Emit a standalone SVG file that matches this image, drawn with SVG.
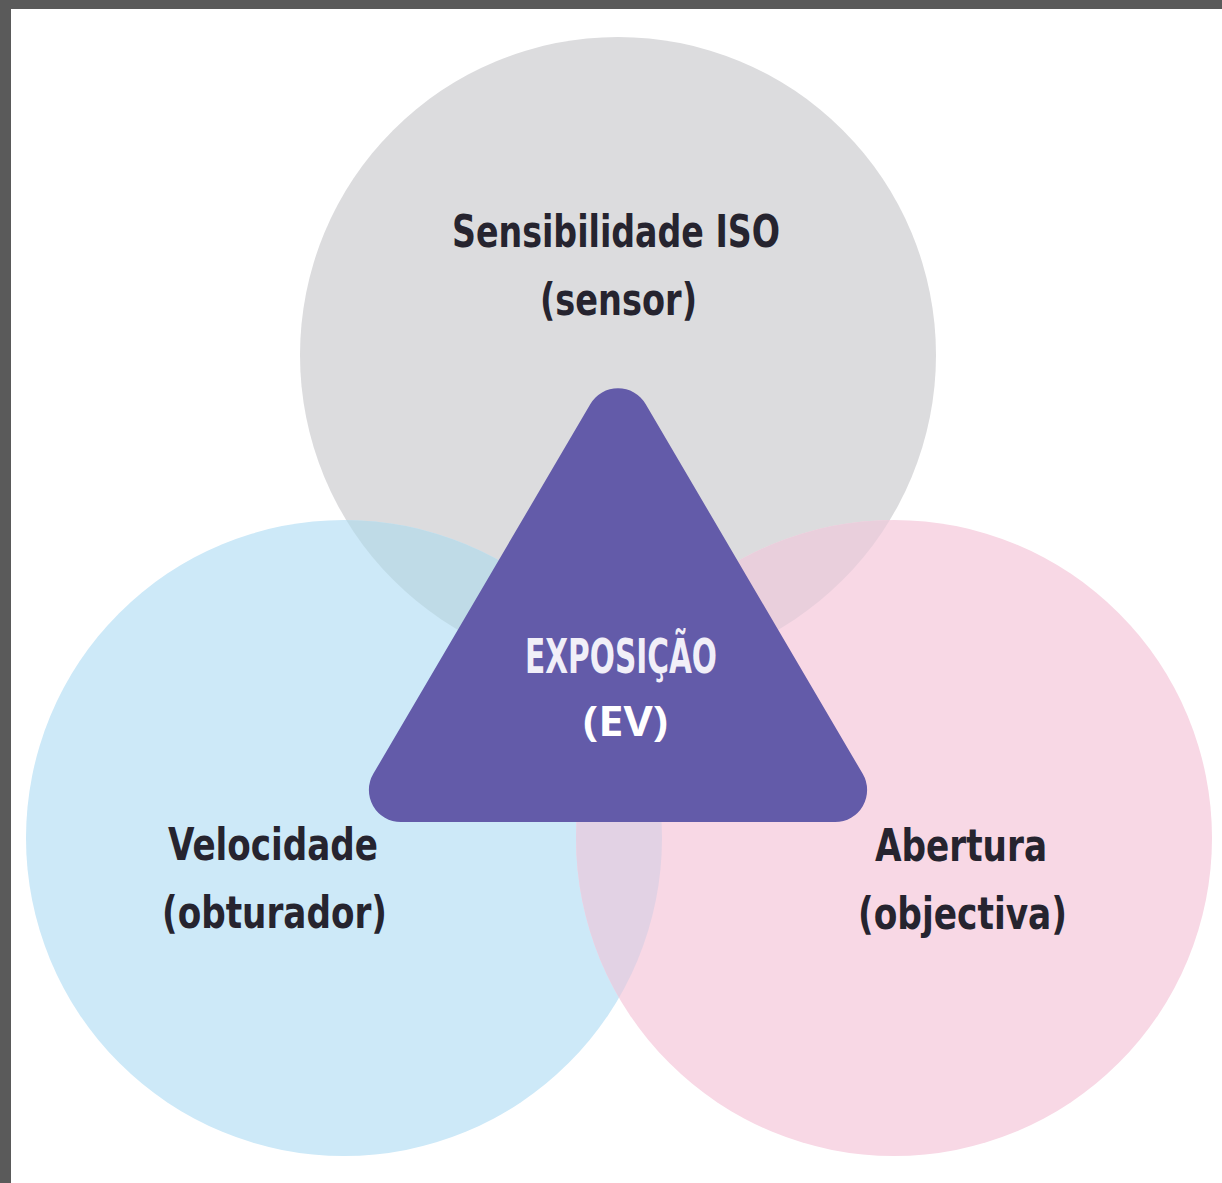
<svg xmlns="http://www.w3.org/2000/svg" width="1222" height="1183" viewBox="0 0 1222 1183">
  <style>
    .lbl { font-family: "DejaVu Sans Condensed", "Liberation Sans Narrow", "DejaVu Sans", sans-serif; font-stretch: condensed; font-weight: bold; font-size: 45px; fill: #26242f; text-anchor: middle; }
    .center { font-family: "DejaVu Sans Condensed", "DejaVu Sans", sans-serif; font-stretch: condensed; font-weight: bold; font-size: 48px; fill: #f1eff8; text-anchor: middle; }
    .ev { font-family: "Open Sans", "Noto Sans", sans-serif; font-weight: bold; font-size: 41px; fill: #ffffff; text-anchor: middle; }
  </style>
  <defs>
    <clipPath id="clipGray"><circle cx="618" cy="355" r="318"/></clipPath>
    <clipPath id="clipBlue"><circle cx="344" cy="838" r="318"/></clipPath>
  </defs>
  <rect x="0" y="0" width="1222" height="1183" fill="#ffffff"/>
  <rect x="0" y="0" width="1222" height="9" fill="#5a5a5a"/>
  <rect x="0" y="0" width="11" height="1183" fill="#5a5a5a"/>

  <g id="iso">
    <circle cx="618" cy="355" r="318" fill="#dcdcde"/>
  </g>
  <g id="velocidade">
    <circle cx="344" cy="838" r="318" fill="#cde9f8"/>
  </g>
  <g id="abertura">
    <circle cx="894" cy="838" r="318" fill="#f8d8e5"/>
  </g>
  <g id="overlaps">
    <circle cx="344" cy="838" r="318" fill="#bfdbe7" clip-path="url(#clipGray)"/>
    <circle cx="894" cy="838" r="318" fill="#e9cfdc" clip-path="url(#clipGray)"/>
    <circle cx="894" cy="838" r="318" fill="#e2d2e4" clip-path="url(#clipBlue)"/>
  </g>

  <g id="exposicao">
    <path d="M 590.4,404 A 32 32 0 0 1 645.6,404 L 862.7,773.8 A 32 32 0 0 1 835.1,822 L 400.9,822 A 32 32 0 0 1 373.3,773.8 Z" fill="#635ba9"/>
    <text class="center" x="621" y="673" textLength="192" lengthAdjust="spacingAndGlyphs">EXPOSIÇÃO</text>
    <text class="ev" x="625.5" y="736" textLength="85" lengthAdjust="spacingAndGlyphs">(EV)</text>
  </g>

  <g id="labels">
    <text class="lbl" x="616" y="247" textLength="328" lengthAdjust="spacingAndGlyphs">Sensibilidade ISO</text>
    <text class="lbl" x="618.5" y="315" textLength="157" lengthAdjust="spacingAndGlyphs">(sensor)</text>
    <text class="lbl" x="273" y="860" textLength="210" lengthAdjust="spacingAndGlyphs">Velocidade</text>
    <text class="lbl" x="274.5" y="928" textLength="225" lengthAdjust="spacingAndGlyphs">(obturador)</text>
    <text class="lbl" x="961" y="861" textLength="172" lengthAdjust="spacingAndGlyphs">Abertura</text>
    <text class="lbl" x="962.5" y="929" textLength="209" lengthAdjust="spacingAndGlyphs">(objectiva)</text>
  </g>
</svg>
